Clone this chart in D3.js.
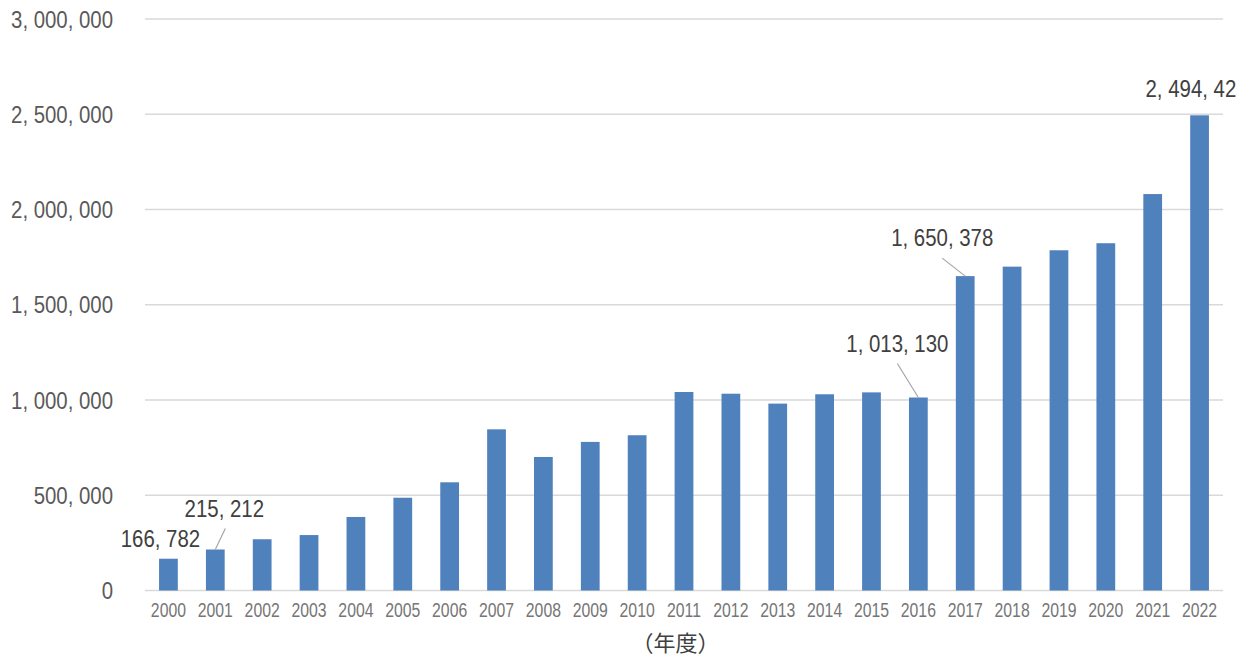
<!DOCTYPE html>
<html>
<head>
<meta charset="utf-8">
<script src="https://cdn.jsdelivr.net/npm/d3@7"></script>
<style>
  html, body { margin: 0; padding: 0; background: #fff; }
  svg { display: block; }
  .num { font-family: "Liberation Sans", Arial, sans-serif; }
</style>
</head>
<body>
<svg id="chart" width="1248" height="656"></svg>
<script>
// ---- data ----
const years = ["2000","2001","2002","2003","2004","2005","2006","2007","2008","2009","2010","2011",
               "2012","2013","2014","2015","2016","2017","2018","2019","2020","2021","2022"];
const values = [166782, 215212, 269000, 291000, 386000, 487000, 568000, 846000, 701000, 780000, 815000, 1042000,
                1033000, 981000, 1030000, 1040000, 1013130, 1650378, 1700000, 1786000, 1823000, 2081000, 2494425];
const yTicks = [0, 500000, 1000000, 1500000, 2000000, 2500000, 3000000];
const labeledYears = ["2000", "2001", "2016", "2017", "2022"];
const xTitle = "（年度）";

// ---- layout (label placement relative to bar top) ----
const labelLayout = {
  "2000": { dx: -8,  dy: -20, leader: null },
  "2001": { dx: 9,   dy: -41, leader: [0, 0, 10, -21] },
  "2016": { dx: -21, dy: -54, leader: [0, 0, -21, -34] },
  "2017": { dx: -23, dy: -39, leader: [0, 0, -23, -18] },
  "2022": { dx: -3,  dy: -27, leader: null }
};

const fmt = v => d3.format(",")(v).replace(/,/g, ", ");

// condense text horizontally (the original uses a narrow face)
function squeeze(sel, factor) {
  sel.each(function() {
    const w = this.getComputedTextLength();
    d3.select(this).attr("textLength", w * factor).attr("lengthAdjust", "spacingAndGlyphs");
  });
}

const svg = d3.select("#chart");
const plotLeft = 145, plotRight = 1223, plotTop = 19, plotBottom = 590.5;

svg.append("defs").append("clipPath").attr("id", "chartArea")
  .append("rect").attr("x", 0).attr("y", 0).attr("width", 1237).attr("height", 656);

const x = d3.scaleBand().domain(years).range([plotLeft, plotRight]).paddingInner(0.6).paddingOuter(0.3);
const y = d3.scaleLinear().domain([0, 3000000]).range([plotBottom, plotTop]);

// gridlines
svg.append("g").selectAll("line").data(yTicks).join("line")
  .attr("x1", plotLeft).attr("x2", plotRight)
  .attr("y1", d => y(d)).attr("y2", d => y(d))
  .attr("stroke", "#d9d9d9").attr("stroke-width", 1.3);

// y axis labels
const yAxis = d3.axisLeft(y).tickValues(yTicks).tickFormat(fmt).tickSize(0).tickPadding(0);
const gy = svg.append("g").attr("transform", "translate(113,0)").call(yAxis);
gy.select(".domain").remove();
gy.selectAll("text").attr("class", "num")
  .attr("font-size", 23.5).attr("fill", "#595959").attr("dy", "0.35em")
  .call(squeeze, 0.867);

// bars
svg.append("g").selectAll("rect").data(years).join("rect")
  .attr("x", d => x(d)).attr("width", x.bandwidth())
  .attr("y", (d, i) => y(values[i])).attr("height", (d, i) => y(0) - y(values[i]))
  .attr("fill", "#4f81bd");

// x axis labels
const xAxis = d3.axisBottom(x).tickSize(0).tickPadding(0);
const gx = svg.append("g").attr("transform", "translate(0,610)").call(xAxis);
gx.select(".domain").remove();
gx.selectAll("text").attr("class", "num")
  .attr("font-size", 19.5).attr("fill", "#767676").attr("dy", "0.35em")
  .call(squeeze, 0.81);

// x title
svg.append("text")
  .attr("x", 675.5).attr("y", 643).attr("dy", "0.35em")
  .attr("text-anchor", "middle")
  .attr("font-family", "'Noto Sans CJK JP', sans-serif")
  .attr("font-size", 22)
  .style("font-feature-settings", "'halt'")
  .attr("fill", "#404040")
  .text(xTitle);

// data labels
const lab = svg.append("g").attr("clip-path", "url(#chartArea)");
labeledYears.forEach(yr => {
  const i = years.indexOf(yr);
  const cx = x(yr) + x.bandwidth() / 2;
  const cy = y(values[i]);
  const L = labelLayout[yr];
  if (L.leader) {
    lab.append("line")
      .attr("x1", cx + L.leader[0]).attr("y1", cy + L.leader[1])
      .attr("x2", cx + L.leader[2]).attr("y2", cy + L.leader[3])
      .attr("stroke", "#a6a6a6").attr("stroke-width", 1.2);
  }
  lab.append("text").attr("class", "num")
    .attr("x", cx + L.dx).attr("y", cy + L.dy).attr("dy", "0.35em")
    .attr("text-anchor", "middle")
    .attr("font-size", 24).attr("fill", "#404040")
    .text(fmt(values[i]))
    .call(squeeze, 0.85);
});
</script>
</body>
</html>
